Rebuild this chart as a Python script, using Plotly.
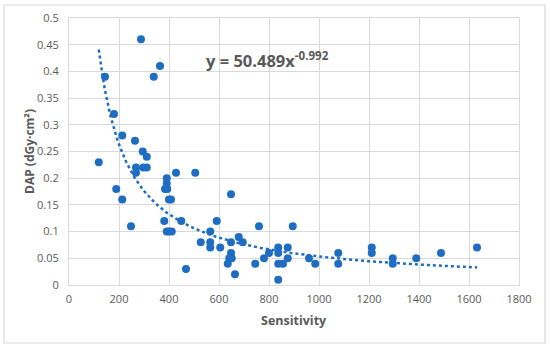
import numpy as np
import plotly.graph_objects as go

# Data
sensitivity = [119, 144, 180, 189, 213, 213, 248, 264, 268, 268, 288, 295, 297, 311, 311,
               339, 364, 381, 384, 391, 391, 393, 391, 400, 408, 400, 411, 428, 449, 468,
               505, 527, 565, 565, 565, 591, 605, 635, 641, 648, 648, 648, 651, 664, 679,
               695, 745, 760, 780, 800, 837, 837, 837, 837, 856, 875, 875, 895, 960, 985,
               1077, 1077, 1211, 1211, 1295, 1295, 1389, 1488, 1632]
dap = [0.23, 0.39, 0.32, 0.18, 0.28, 0.16, 0.11, 0.27, 0.22, 0.21, 0.46, 0.25, 0.22, 0.24, 0.22,
       0.39, 0.41, 0.12, 0.18, 0.20, 0.19, 0.18, 0.10, 0.16, 0.16, 0.10, 0.10, 0.21, 0.12, 0.03,
       0.21, 0.08, 0.10, 0.08, 0.07, 0.12, 0.07, 0.04, 0.05, 0.17, 0.08, 0.06, 0.05, 0.02, 0.09,
       0.08, 0.04, 0.11, 0.05, 0.06, 0.07, 0.06, 0.04, 0.01, 0.04, 0.07, 0.05, 0.11, 0.05, 0.04,
       0.06, 0.04, 0.07, 0.06, 0.05, 0.04, 0.05, 0.06, 0.07]

# Power trendline shown on chart: y = a * x^b
trend_a = 50.489
trend_b = -0.992

x_ticks = [0, 200, 400, 600, 800, 1000, 1200, 1400, 1600, 1800]
x_tick_labels = ["0", "200", "400", "600", "800", "1000", "1200", "1400", "1600", "1800"]
y_ticks = [0, 0.05, 0.1, 0.15, 0.2, 0.25, 0.3, 0.35, 0.4, 0.45, 0.5]
y_tick_labels = ["0", "0.05", "0.1", "0.15", "0.2", "0.25", "0.3", "0.35", "0.4", "0.45", "0.5"]

blue = "#1F6DC2"
grey_text = "#595959"
grid = "#D9D9D9"
font_family = "Open Sans, Liberation Sans, sans-serif"

tx = np.linspace(min(sensitivity), max(sensitivity), 300)
ty = trend_a * tx ** trend_b

fig = go.Figure()
fig.add_trace(go.Scatter(x=tx, y=ty, mode="lines",
                         line=dict(color=blue, width=2.5, dash="dot"),
                         hoverinfo="skip", showlegend=False))
fig.add_trace(go.Scatter(x=sensitivity, y=dap, mode="markers",
                         marker=dict(color=blue, size=8, line=dict(width=0)),
                         showlegend=False))

fig.add_annotation(x=792, y=0.422, xref="x", yref="y", xanchor="center", yanchor="middle",
                   text="<b>y = 50.489x<sup>-0.992</sup></b>", showarrow=False,
                   font=dict(size=16.5, color=grey_text, family=font_family))

# axis titles
fig.add_annotation(x=(294 - 69) / 450, y=(285 - 320) / 267, xref="paper", yref="paper",
                   xanchor="center", yanchor="middle",
                   text="<b>Sensitivity</b>", showarrow=False,
                   font=dict(size=12.5, color=grey_text, family=font_family))
fig.add_annotation(x=(29 - 69) / 450, y=(285 - 152) / 267, xref="paper", yref="paper",
                   xanchor="center", yanchor="middle",
                   text="<b>DAP (dGy·cm²)</b>", showarrow=False, textangle=-90,
                   font=dict(size=12, color=grey_text, family=font_family))

# outer chart frame
fig.add_shape(type="rect", xref="paper", yref="paper",
              x0=(4 - 69) / 450, x1=(545 - 69) / 450,
              y0=(285 - 343) / 267, y1=(285 - 5) / 267,
              line=dict(color=grid, width=1.2), fillcolor="rgba(0,0,0,0)", layer="below")

fig.update_layout(
    width=550, height=347,
    margin=dict(l=69, r=31, t=18, b=62, autoexpand=False),
    paper_bgcolor="white", plot_bgcolor="white",
    font=dict(family=font_family, color=grey_text, size=11),
    xaxis=dict(range=[0, 1800], tickvals=x_ticks, ticktext=x_tick_labels,
               showgrid=True, gridcolor=grid, gridwidth=1, zeroline=False,
               showline=True, linecolor=grid, mirror=True, ticks="", automargin=False,
               ticklabelstandoff=4,
               tickfont=dict(size=11, color=grey_text)),
    yaxis=dict(range=[0, 0.5], tickvals=y_ticks, ticktext=y_tick_labels,
               showgrid=True, gridcolor=grid, gridwidth=1, zeroline=False,
               showline=True, linecolor=grid, mirror=True, ticks="", automargin=False,
               ticklabelstandoff=7,
               tickfont=dict(size=11, color=grey_text)),
)

fig.write_html("out.html", config={"displayModeBar": False},
               post_script="document.body.style.margin='0';document.body.style.overflow='hidden';")
